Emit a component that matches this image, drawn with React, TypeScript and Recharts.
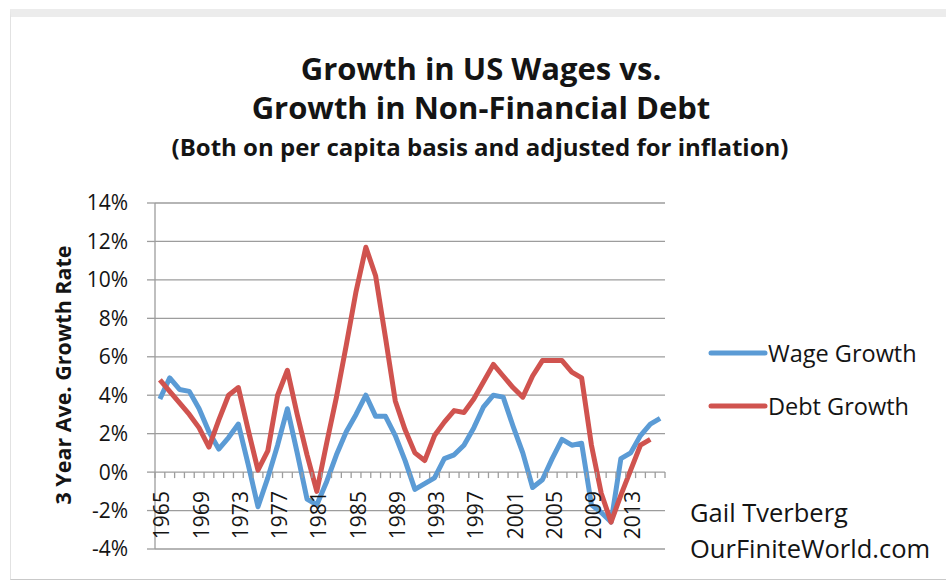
import React from 'react';
import { LineChart, Line, XAxis, YAxis, CartesianGrid, Legend } from 'recharts';

const years = [
  1965, 1966, 1967, 1968, 1969, 1970, 1971, 1972, 1973, 1974,
  1975, 1976, 1977, 1978, 1979, 1980, 1981, 1982, 1983, 1984,
  1985, 1986, 1987, 1988, 1989, 1990, 1991, 1992, 1993, 1994,
  1995, 1996, 1997, 1998, 1999, 2000, 2001, 2002, 2003, 2004,
  2005, 2006, 2007, 2008, 2009, 2010, 2011, 2012, 2013, 2014,
  2015, 2016,
];

// 3 year average growth, % per year
const wageGrowth = [
  3.8, 4.9, 4.3, 4.2, 3.3, 2.1, 1.2, 1.8, 2.5, 0.4,
  -1.8, -0.3, 1.4, 3.3, 1.0, -1.4, -1.7, -0.5, 0.9, 2.1,
  3.0, 4.0, 2.9, 2.9, 1.9, 0.6, -0.9, -0.6, -0.3, 0.7,
  0.9, 1.4, 2.3, 3.4, 4.0, 3.9, 2.4, 1.0, -0.8, -0.4,
  0.7, 1.7, 1.4, 1.5, -1.7, -2.1, -2.6, 0.7, 1.0, 1.9,
  2.5, 2.8,
];

const debtGrowth = [
  4.8, 4.2, 3.6, 3.0, 2.3, 1.3, 2.7, 4.0, 4.4, 2.2,
  0.1, 1.1, 4.0, 5.3, 3.0, 0.9, -1.0, 1.5, 3.9, 6.6,
  9.4, 11.7, 10.2, 7.0, 3.7, 2.2, 1.0, 0.6, 1.9, 2.6,
  3.2, 3.1, 3.8, 4.7, 5.6, 5.0, 4.4, 3.9, 5.0, 5.8,
  5.8, 5.8, 5.2, 4.9, 1.4, -1.1, -2.6, -1.2, 0.1, 1.4,
  1.7, null,
];

const yTicks = [-4, -2, 0, 2, 4, 6, 8, 10, 12, 14];
const legendOrder = ['Wage Growth', 'Debt Growth'];

const data = years.map((year, i) => ({
  year,
  wage: wageGrowth[i],
  debt: debtGrowth[i],
}));

const W = 946;
const H = 585;
const PLOT = { left: 155, right: 665, top: 203, bottom: 549 };
const FONT = '"Open Sans", sans-serif';
const TEXT = '#141414';
const BLUE = '#5B9BD5';
const RED = '#D0534F';
const GRID = '#9d9d9d';

// the category axis crosses at 0%, like the Excel original
const ZERO_Y = PLOT.top + ((PLOT.bottom - PLOT.top) * 14) / 18;
const BAND = (PLOT.right - PLOT.left) / years.length;

function YearTick(props: any) {
  const { x, payload, index } = props;
  const last = index === years.length - 1;
  return (
    <g>
      <line x1={x - BAND / 2} x2={x - BAND / 2} y1={ZERO_Y} y2={ZERO_Y + 6} stroke={GRID} strokeWidth={1.3} />
      {last && (
        <line x1={x + BAND / 2} x2={x + BAND / 2} y1={ZERO_Y} y2={ZERO_Y + 6} stroke={GRID} strokeWidth={1.3} />
      )}
      {index % 4 === 0 && (
        <text
          transform={`translate(${x + 2}, ${ZERO_Y + 19}) rotate(-90)`}
          textAnchor="end"
          dy="0.36em"
          fontFamily={FONT}
          fontSize={21}
          fontWeight={500}
          fill={TEXT}
        >
          {payload.value}
        </text>
      )}
    </g>
  );
}

function LegendContent({ payload }: any) {
  const items = [...(payload || [])].sort(
    (a: any, b: any) => legendOrder.indexOf(a.value) - legendOrder.indexOf(b.value)
  );
  return (
    <div>
      {items.map((entry: any) => (
        <div key={entry.value} style={{ display: 'flex', alignItems: 'center', height: 53 }}>
          <svg width={60} height={8}>
            <line x1={3} x2={57} y1={4} y2={4} stroke={entry.color} strokeWidth={5} strokeLinecap="round" />
          </svg>
          <span style={{ fontFamily: FONT, fontSize: 23.5, fontWeight: 500, color: TEXT }}>{entry.value}</span>
        </div>
      ))}
    </div>
  );
}

const abs = (extra: React.CSSProperties): React.CSSProperties => ({
  position: 'absolute',
  fontFamily: FONT,
  color: TEXT,
  whiteSpace: 'nowrap',
  ...extra,
});

export default function App() {
  return (
    <div style={{ position: 'absolute', left: 0, top: 0, width: W, height: H, background: '#fff', overflow: 'hidden' }}>
      <div
        style={{
          position: 'absolute',
          left: 10,
          top: 9,
          width: 940,
          height: 562,
          borderTop: '8px solid #ececec',
          borderLeft: '1px solid #e2e2e2',
          borderBottom: '1px solid #c9c9c9',
        }}
      />

      <div style={abs({ left: 0, width: 962, top: 48, textAlign: 'center', fontSize: 31, fontWeight: 700, lineHeight: '40px' })}>
        Growth in US Wages vs.
      </div>
      <div style={abs({ left: 0, width: 962, top: 87, textAlign: 'center', fontSize: 31, fontWeight: 700, lineHeight: '40px' })}>
        Growth in Non-Financial Debt
      </div>
      <div style={abs({ left: 0, width: 960, top: 131, textAlign: 'center', fontSize: 24, fontWeight: 700, lineHeight: '32px' })}>
        (Both on per capita basis and adjusted for inflation)
      </div>

      <div
        style={abs({
          left: 62,
          top: 375,
          transform: 'translate(-50%, -50%) rotate(-90deg)',
          fontSize: 21.5,
          fontWeight: 700,
        })}
      >
        3 Year Ave. Growth Rate
      </div>

      <div style={abs({ left: 690, top: 496, fontSize: 25.5, fontWeight: 500, lineHeight: '32px' })}>Gail Tverberg</div>
      <div style={abs({ left: 690, top: 532, fontSize: 25.5, fontWeight: 500, lineHeight: '32px' })}>OurFiniteWorld.com</div>

      <div style={{ position: 'absolute', left: 0, top: 0 }}>
        <LineChart
          width={W}
          height={H}
          data={data}
          margin={{ top: PLOT.top, right: W - PLOT.right, bottom: H - PLOT.bottom - 6, left: PLOT.left - 60 }}
        >
          <CartesianGrid vertical={false} stroke={GRID} strokeWidth={1.3} />
          <XAxis
            dataKey="year"
            scale="band"
            interval={0}
            height={6}
            axisLine={false}
            tickLine={false}
            tick={<YearTick />}
          />
          <YAxis
            width={60}
            domain={[-4, 14]}
            ticks={yTicks}
            interval={0}
            tickFormatter={(v: number) => `${v}%`}
            axisLine={{ stroke: GRID, strokeWidth: 1.3 }}
            tickLine={{ stroke: GRID, strokeWidth: 1.3 }}
            tickSize={8}
            tickMargin={19}
            tick={{ fontFamily: FONT, fontSize: 21, fontWeight: 500, fill: TEXT }}
          />
          <Legend
            layout="horizontal"
            verticalAlign="middle"
            align="center"
            wrapperStyle={{ left: 708, top: 326, width: 240 }}
            content={<LegendContent />}
          />
          <Line
            name="Wage Growth"
            dataKey="wage"
            type="linear"
            stroke={BLUE}
            strokeWidth={5}
            strokeLinejoin="round"
            dot={false}
            isAnimationActive={false}
          />
          <Line
            name="Debt Growth"
            dataKey="debt"
            type="linear"
            stroke={RED}
            strokeWidth={5}
            strokeLinejoin="round"
            dot={false}
            isAnimationActive={false}
          />
        </LineChart>
      </div>
    </div>
  );
}
